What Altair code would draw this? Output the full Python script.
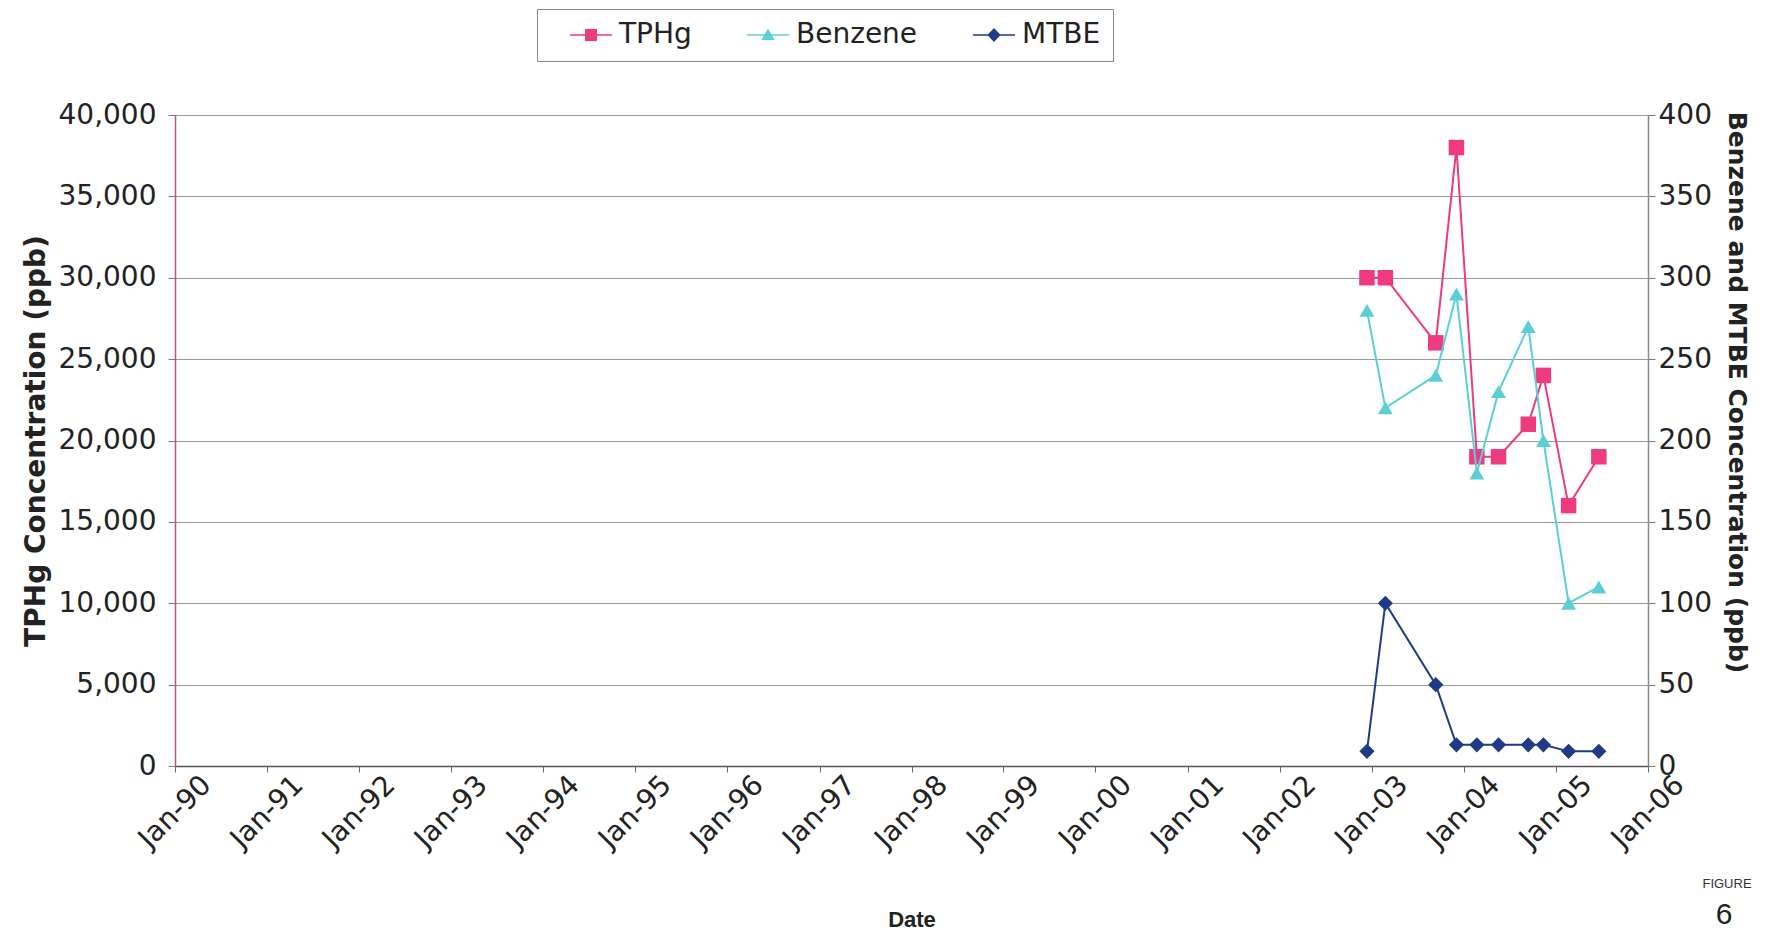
import altair as alt
import pandas as pd

# ---- data ----
dates = ["2002-12-13", "2003-02-24", "2003-09-12", "2003-12-03", "2004-02-22",
         "2004-05-18", "2004-09-13", "2004-11-12", "2005-02-20", "2005-06-20"]
tphg = [30000, 30000, 26000, 38000, 19000, 19000, 21000, 24000, 16000, 19000]
benzene = [280, 220, 240, 290, 180, 230, 270, 200, 100, 110]
mtbe = [9, 100, 50, 13, 13, 13, 13, 13, 9, 9]

series_names = ["TPHg", "Benzene", "MTBE"]
series_colors = ["#EE3A7E", "#5CCFD6", "#1F3A86"]
left_ticks = list(range(0, 40001, 5000))
right_ticks = list(range(0, 401, 50))
year_ticks = list(range(1990, 2007))

tphg_df = pd.DataFrame({"date": dates, "series": "TPHg", "value": tphg})
benz_df = pd.DataFrame({"date": dates, "series": "Benzene", "value": benzene})
mtbe_df = pd.DataFrame({"date": dates, "series": "MTBE", "value": mtbe})
right_df = pd.concat([benz_df, mtbe_df], ignore_index=True)

FONT = "DejaVu Sans"
TFONT = "Liberation Sans"

x_enc = alt.X(
    "date:T",
    scale=alt.Scale(type="utc",
                    domain=[alt.DateTime(year=1990, month=1, date=1, utc=True),
                            alt.DateTime(year=2006, month=1, date=1, utc=True)]),
    axis=alt.Axis(
        title="Date",
        values=[alt.DateTime(year=y, month=1, date=1, utc=True) for y in year_ticks],
        labelExpr="utcFormat(datum.value, '%b-%y')",
        labelAngle=-45, labelAlign="center", labelBaseline="middle",
        labelPadding=40, tickSize=6, tickColor="#666666",
        domainColor="#555555", domainWidth=1.5,
        labelFont=FONT, labelFontSize=28, labelColor="#222222",
        titleFont=TFONT, titleFontSize=22, titleFontWeight="bold",
        titleColor="#222222", titlePadding=56, grid=False,
    ),
)

# ---- left axis (TPHg) ----
y_left = alt.Y("value:Q",
               scale=alt.Scale(domain=[0, 40000]),
               axis=alt.Axis(title="TPHg Concentration (ppb)", values=left_ticks,
                             format=",d", orient="left",
                             grid=True, gridColor="#999999", gridWidth=1.2,
                             domainColor="#B45A78", domainWidth=1.5,
                             tickSize=7, tickColor="#777777", labelPadding=12,
                             labelFont=FONT, labelFontSize=28, labelColor="#222222",
                             titleFont=FONT, titleFontSize=28, titleFontWeight="bold",
                             titleColor="#222222", titlePadding=8))

base_left = alt.Chart(tphg_df).encode(x=x_enc, y=y_left)
tphg_line = base_left.mark_line(strokeWidth=2, color=series_colors[0])
tphg_pts = base_left.mark_point(shape="square", filled=True, size=240, opacity=1,
                                color=series_colors[0])
left_layer = alt.layer(tphg_line, tphg_pts)

# ---- right axis (Benzene, MTBE) ----
y_right = alt.Y("value:Q",
                scale=alt.Scale(domain=[0, 400]),
                axis=alt.Axis(title="Benzene and MTBE Concentration (ppb)",
                              values=right_ticks, orient="right", grid=False,
                              domainColor="#888888", domainWidth=1.5,
                              tickSize=7, tickColor="#777777", labelPadding=3,
                              labelFont=FONT, labelFontSize=28, labelColor="#222222",
                              titleFont=FONT, titleFontSize=25, titleFontWeight="bold",
                              titleColor="#222222", titlePadding=12, titleY=277))

benz_base = alt.Chart(benz_df).encode(x=x_enc, y=y_right)
benz_line = benz_base.mark_line(strokeWidth=2, color=series_colors[1])
benz_pts = benz_base.mark_point(shape="triangle-up", filled=True, size=220, opacity=1,
                                color=series_colors[1])
mtbe_base = alt.Chart(mtbe_df).encode(x=x_enc, y=y_right)
mtbe_line = mtbe_base.mark_line(strokeWidth=2, color=series_colors[2])
mtbe_pts = mtbe_base.mark_point(shape="diamond", filled=True, size=230, opacity=1,
                                color=series_colors[2])

# legend-only layer (no drawn points): line-through-marker symbols
legend_paths = [
    "M-1.75,-0.06H1.75V0.06H-1.75Z M-0.5,-0.5H0.5V0.5H-0.5Z",
    "M-1.75,-0.06H1.75V0.06H-1.75Z M-0.55,0.42L0,-0.55L0.55,0.42Z",
    "M-1.75,-0.06H1.75V0.06H-1.75Z M0,-0.58L0.55,0L0,0.58L-0.55,0Z",
]
leg = alt.Legend(title=None, orient="none", direction="horizontal",
                 legendX=362, legendY=-106,
                 strokeColor="#888888", padding=12,
                 symbolSize=576, symbolOffset=28, labelOffset=14,
                 columnPadding=34, symbolOpacity=1,
                 labelFont=FONT, labelFontSize=28, labelColor="#222222")
legend_layer = alt.Chart(right_df).transform_filter("datum.value < 0").mark_point(
    filled=True, opacity=1).encode(
    x=x_enc, y=y_right,
    color=alt.Color("series:N", scale=alt.Scale(domain=series_names, range=series_colors),
                    legend=leg),
    shape=alt.Shape("series:N", scale=alt.Scale(domain=series_names, range=legend_paths),
                    legend=leg),
)

right_layer = alt.layer(benz_line, mtbe_line, benz_pts, mtbe_pts, legend_layer)

# ---- page annotation ----
fig_df = pd.DataFrame({"t": ["FIGURE"]})
num_df = pd.DataFrame({"t": ["6"]})
fig_text = alt.Chart(fig_df).mark_text(font=TFONT, fontSize=13, color="#333333").encode(
    text="t:N", x=alt.value(1552), y=alt.value(769))
num_text = alt.Chart(num_df).mark_text(font=TFONT, fontSize=30, color="#222222",
                                       baseline="alphabetic").encode(
    text="t:N", x=alt.value(1549), y=alt.value(809))

chart = alt.layer(left_layer, right_layer, fig_text, num_text).resolve_scale(
    y="independent"
).properties(
    width=1473, height=651,
    autosize=alt.AutoSizeParams(type="none"),
    padding={"left": 167, "top": 107, "right": 114, "bottom": 166},
).configure_view(stroke=None).configure(background="white")

chart.save("out.html", embed_options={"renderer": "svg", "actions": False})
